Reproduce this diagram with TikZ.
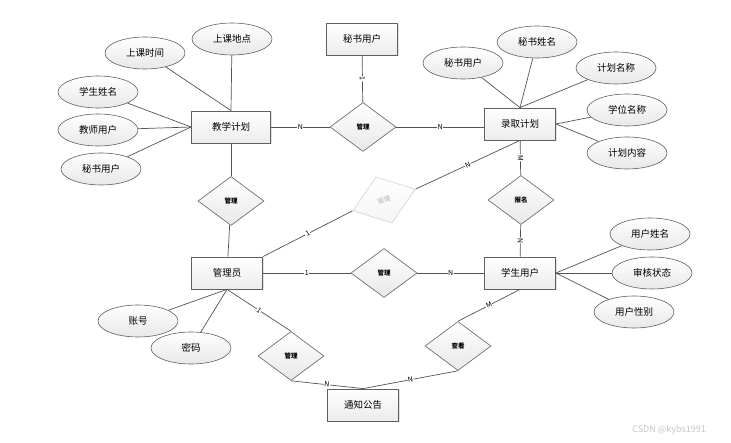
\documentclass[tikz,border=0pt]{standalone}
\usepackage{fontspec}
\newfontfamily\cjk{Noto Sans CJK SC}
\usetikzlibrary{shapes.geometric,shadows}

\begin{document}
\begin{tikzpicture}[
    x=1pt, y=-1pt,
    every node/.style={font=\cjk\fontsize{9.5}{11}\selectfont},
    ent/.style={draw=gray!75!black, line width=0.8pt, minimum width=71pt, minimum height=32pt, inner sep=0pt, top color=white, bottom color=gray!15, drop shadow={shadow xshift=1pt, shadow yshift=-1pt, fill=gray!45}},
    attr/.style={ellipse, draw=gray!75!black, line width=0.6pt, minimum width=80pt, minimum height=32pt, inner sep=0pt, top color=white, bottom color=gray!18},
    rel/.style={diamond, draw=gray!75!black, line width=0.6pt, minimum width=66pt, minimum height=49pt, inner sep=0pt, top color=white, bottom color=gray!18, font=\cjk\bfseries\fontsize{6.5}{8}\selectfont},
    relFade/.style={rel, draw=gray!35, text=gray!60, bottom color=gray!8, font=\cjk\fontsize{6.5}{8}\selectfont},
    conn/.style={draw=gray!65!black, line width=0.7pt},
    lbl/.style={fill=white, inner sep=0.6pt, font=\cjk\fontsize{7}{8}\selectfont}
  ]
    \useasboundingbox (0,0) rectangle (731,443);

    \node[ent, minimum width=79pt] (jx) at (231,127) {教学计划};
    \node[ent] (msyh) at (362,39) {秘书用户};
    \node[ent] (lq) at (520,124) {录取计划};
    \node[ent] (gly) at (227,273) {管理员};
    \node[ent] (xs) at (520,273) {学生用户};
    \node[ent] (tz) at (363,405) {通知公告};

    \node[rel] (glA) at (363,127) {管理};
    \node[rel] (glB) at (231,201) {管理};
    \node[relFade, rotate=19] (glC) at (384,200) {管理};
    \node[rel] (bm) at (521,200) {报名};
    \node[rel] (glD) at (384,273) {管理};
    \node[rel] (glE) at (291,356) {管理};
    \node[rel] (ck) at (458,346) {查看};

    \node[attr] (skdd) at (232,39) {上课地点};
    \node[attr] (sksj) at (145,53) {上课时间};
    \node[attr] (xsxm) at (98,92) {学生姓名};
    \node[attr] (jsyh) at (98,130) {教师用户};
    \node[attr] (msyhA) at (101,169) {秘书用户};
    \node[attr] (msyhB) at (463,63) {秘书用户};
    \node[attr] (msxm) at (537,42) {秘书姓名};
    \node[attr] (jhmc) at (616,68) {计划名称};
    \node[attr] (xwmc) at (627,110) {学位名称};
    \node[attr] (jhnr) at (627,153) {计划内容};
    \node[attr] (yhxm) at (650,234) {用户姓名};
    \node[attr] (shzt) at (652,273) {审核状态};
    \node[attr] (yhxb) at (634,312) {用户性别};
    \node[attr] (zh) at (138,321) {账号};
    \node[attr] (mm) at (191,348) {密码};

    \node[text=gray!45, font=\cjk\fontsize{9}{10}\selectfont] (wm) at (669,430) {CSDN @kybs1991};

    \draw[conn] (skdd) -- (jx.north);
    \draw[conn] (sksj) -- (jx.north);
    \draw[conn] (xsxm) -- (jx.west);
    \draw[conn] (jsyh) -- (jx.west);
    \draw[conn] (msyhA) -- (jx.west);
    \draw[conn] (msyhB) -- (lq.north);
    \draw[conn] (msxm) -- (lq.north);
    \draw[conn] (jhmc) -- (lq.north);
    \draw[conn] (xwmc) -- (lq.east);
    \draw[conn] (jhnr) -- (lq.east);
    \draw[conn] (yhxm) -- (xs.east);
    \draw[conn] (shzt) -- (xs.east);
    \draw[conn] (yhxb) -- (xs.east);
    \draw[conn] (zh) -- (gly.south);
    \draw[conn] (mm) -- (gly.south);

    \draw[conn] (jx) -- node[lbl]{N} (glA);
    \draw[conn] (glA) -- node[lbl]{N} (lq.west |- glA);
    \draw[conn] (msyh) -- node[lbl, sloped]{1} (glA);
    \draw[conn] (jx) -- (glB);
    \draw[conn] (glB) -- (gly);
    \draw[conn] (lq) -- node[lbl, sloped]{M} (bm);
    \draw[conn] (bm) -- node[lbl, sloped]{N} (xs);
    \draw[conn] (lq.south) -- node[lbl, sloped]{N} (glC.east);
    \draw[conn] (glC.west) -- node[lbl, sloped]{1} (gly.north east);
    \draw[conn] (gly) -- node[lbl]{1} (glD);
    \draw[conn] (glD) -- node[lbl]{N} (xs);
    \draw[conn] (gly.south) -- node[lbl, sloped]{1} (glE.north);
    \draw[conn] (glE.south) -- node[lbl, sloped]{N} (tz.north);
    \draw[conn] (tz.north) -- node[lbl, sloped]{N} (ck.south);
    \draw[conn] (ck.north) -- node[lbl, sloped]{M} (xs.south);
  \end{tikzpicture}
\end{document}
